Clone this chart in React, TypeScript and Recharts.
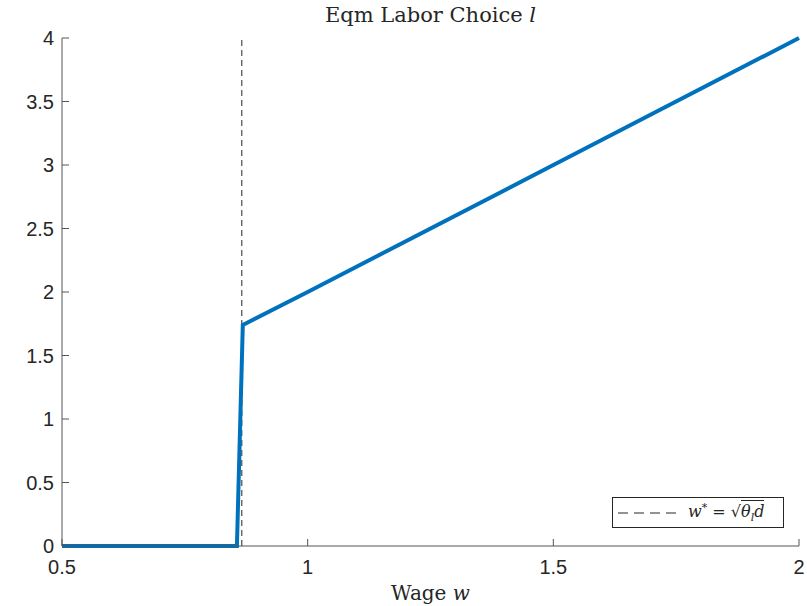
import React from 'react'
import {
  LineChart,
  Line,
  XAxis,
  YAxis,
  ReferenceLine,
  Legend,
  Label,
} from 'recharts'

// wage w and eqm labor choice l
const wages = [0.5, 0.856, 0.868, 1, 1.5, 2]
const labor = [0, 0, 1.74, 2, 3, 4]
const wStar = 0.866

const xTicks = [0.5, 1, 1.5, 2]
const yTicks = [0, 0.5, 1, 1.5, 2, 2.5, 3, 3.5, 4]

const data = wages.map((w, i) => ({ w, l: labor[i] }))

const BLUE = '#0072BD'
const AXIS = '#555555'
const SERIF = '"DejaVu Serif", "Liberation Serif", serif'
const SANS = '"Liberation Sans", Arial, sans-serif'

function XTitle(props: any) {
  const { x, y, width, height } = props.viewBox
  return (
    <text
      x={x + width / 2}
      y={y + height - 6}
      textAnchor="middle"
      fontFamily={SERIF}
      fontSize={20}
      fill="#262626"
    >
      Wage <tspan fontStyle="italic">w</tspan>
    </text>
  )
}

function LegendBox() {
  return (
    <div
      style={{
        border: '1px solid #262626',
        background: '#fff',
        width: 172,
        height: 31,
        boxSizing: 'border-box',
        display: 'flex',
        alignItems: 'center',
        paddingLeft: 5,
        fontFamily: SERIF,
        fontSize: 16,
        color: '#262626',
      }}
    >
      <svg width={62} height={10} style={{ marginRight: 8 }}>
        <line x1={0} y1={5} x2={62} y2={5} stroke="#262626" strokeWidth={1} strokeDasharray="10 6" />
      </svg>
      <span style={{ whiteSpace: 'nowrap' }}>
        <i>w</i>
        <sup style={{ fontSize: 11 }}>*</sup> = √
        <span style={{ borderTop: '1px solid #262626', paddingTop: 1 }}>
          <i>θ</i>
          <sub style={{ fontSize: 11 }}>
            <i>l</i>
          </sub>
          <i>d</i>
        </span>
      </span>
    </div>
  )
}

export default function App() {
  return (
    <div style={{ position: 'absolute', left: 0, top: 0, width: 807, height: 606, background: '#fff' }}>
      <div
        style={{
          position: 'absolute',
          left: 62,
          width: 737,
          top: 3,
          textAlign: 'center',
          fontFamily: SERIF,
          fontSize: 21,
          color: '#262626',
        }}
      >
        Eqm Labor Choice <i>l</i>
      </div>
      <LineChart
        width={807}
        height={606}
        data={data}
        margin={{ top: 38, right: 8, bottom: 0, left: 0 }}
      >
        <XAxis
          dataKey="w"
          type="number"
          domain={[0.5, 2]}
          ticks={xTicks}
          interval={0}
          height={60}
          tickSize={-7}
          tickMargin={21}
          stroke={AXIS}
          tick={{ fill: '#262626', fontSize: 20, fontFamily: SANS }}
        >
          <Label content={<XTitle />} />
        </XAxis>
        <YAxis
          type="number"
          domain={[0, 4]}
          ticks={yTicks}
          interval={0}
          width={62}
          tickSize={-7}
          tickMargin={15}
          stroke={AXIS}
          tick={{ fill: '#262626', fontSize: 20, fontFamily: SANS }}
        />
        <ReferenceLine x={wStar} stroke="#262626" strokeWidth={1} strokeDasharray="6 4" />
        <Line
          dataKey="l"
          stroke={BLUE}
          strokeWidth={4}
          dot={false}
          activeDot={false}
          isAnimationActive={false}
          legendType="none"
        />
        <Legend
          content={<LegendBox />}
          layout="horizontal"
          verticalAlign="middle"
          align="center"
          wrapperStyle={{ position: 'absolute', left: 612, top: 497, width: 172 }}
        />
      </LineChart>
    </div>
  )
}
